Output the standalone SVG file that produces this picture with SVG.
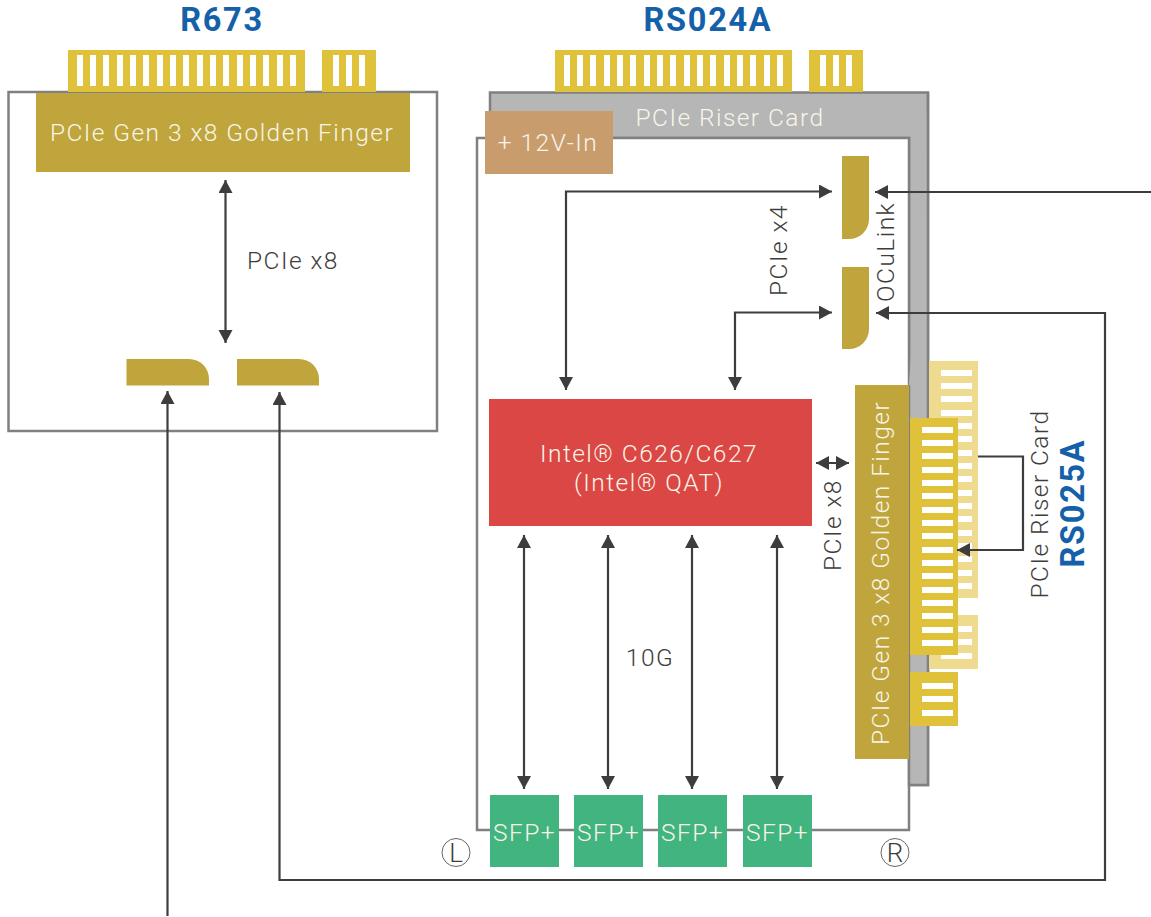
<svg xmlns="http://www.w3.org/2000/svg" xmlns:xlink="http://www.w3.org/1999/xlink" width="1151" height="917" viewBox="0 0 1151 917">
<style>
text{font-family:"Roboto","Liberation Sans",sans-serif;font-weight:300;letter-spacing:1.45px;text-anchor:middle}
.title{font-weight:700;font-size:32.500px;fill:#1561a9;letter-spacing:1.7px}
.w{fill:#f8f5e8;font-size:24.500px}
.d{fill:#3f3d3c;font-size:24.500px}
.m{letter-spacing:0;font-size:26px}
.gold{fill:#bfa53b}
.yel{fill:#dfc23a}
.lyel{fill:#eedb90}
.t{fill:#fff}
.box{fill:#fff;stroke:#808080;stroke-width:2.500}
.sfp{fill:#41b47f}
.c{fill:none;stroke:#3f3d3c;stroke-width:2.200}
</style>
<defs>
<marker id="a" markerUnits="userSpaceOnUse" markerWidth="14" markerHeight="15" refX="13" refY="7" orient="auto-start-reverse"><path d="M0 0L13 7L0 14Z" fill="#3f3d3c"/></marker>
<g id="longH"><path d="M77 55h6v31h-6zM90 55h6v31h-6zM103 55h6v31h-6zM117 55h6v31h-6zM130 55h6v31h-6zM143 55h6v31h-6zM157 55h6v31h-6zM170 55h6v31h-6zM183 55h6v31h-6zM197 55h6v31h-6zM210 55h6v31h-6zM223 55h6v31h-6zM237 55h6v31h-6zM250 55h6v31h-6zM263 55h6v31h-6zM277 55h6v31h-6zM290 55h6v31h-6z" class="t"/></g>
<g id="longV"><path d="M0 0h31v6h-31zM0 13h31v6h-31zM0 26h31v6h-31zM0 40h31v6h-31zM0 53h31v6h-31zM0 66h31v6h-31zM0 80h31v6h-31zM0 93h31v6h-31zM0 106h31v6h-31zM0 120h31v6h-31zM0 133h31v6h-31zM0 146h31v6h-31zM0 160h31v6h-31zM0 173h31v6h-31zM0 186h31v6h-31zM0 200h31v6h-31zM0 213h31v6h-31z" class="t"/></g>
<g id="shortV"><path d="M0 0h31v6h-31zM0 13h31v6h-31zM0 27h31v6h-31z" class="t"/></g>
</defs>

<g id="r673-title"><text class="title" x="222" y="31">R673</text></g>
<g id="rs024a-title"><text class="title" x="708" y="31">RS024A</text></g>

<g id="r673-board"><rect class="box" x="8.500" y="92" width="428.500" height="339"/></g>
<g id="r673-edge">
<rect class="yel" x="68" y="50" width="237" height="42"/><use xlink:href="#longH" href="#longH"/>
<rect class="yel" x="322" y="50" width="54" height="42"/><path class="t" d="M333 55h6v31h-6zM346 55h6v31h-6zM359 55h6v31h-6z"/>
</g>
<g id="r673-finger"><rect class="gold" x="36" y="93" width="374" height="79"/><text class="w" x="222" y="141">PCIe Gen 3 x8 Golden Finger</text></g>
<g id="r673-conn-l"><path class="gold" d="M126.500 359H189A20 20 0 0 1 209 379V385.500H126.500Z"/></g>
<g id="r673-conn-r"><path class="gold" d="M237 359H299A20 20 0 0 1 319 379V385.500H237Z"/></g>
<g id="pcie-x8-label"><text class="d" x="293" y="269">PCIe x8</text></g>

<g id="rs024a-riser"><path d="M490 92.500H928V785H909V138H490Z" fill="#b5b6b5" stroke="#808080" stroke-width="2.500"/></g>
<g id="rs024a-board"><path d="M477 138H909V830H477Z" fill="#fff" stroke="#808080" stroke-width="2.500"/></g>
<g id="rs024a-riser-overlay"><path d="M909 385V785H928V92.500" fill="#b5b6b5" stroke="#808080" stroke-width="2.500"/><text class="w" x="730" y="126">PCIe Riser Card</text></g>
<g id="rs024a-edge">
<rect class="yel" x="555" y="50" width="237" height="42"/><use xlink:href="#longH" href="#longH" x="487"/>
<rect class="yel" x="809" y="50" width="54" height="42"/><path class="t" d="M820 55h6v31h-6zM833 55h6v31h-6zM846 55h6v31h-6z"/>
</g>
<g id="v12"><rect x="485" y="111" width="128" height="63" fill="#c99c6e"/><text class="w" x="548" y="151">+ 12V-In</text></g>
<g id="oculink-1"><path class="gold" d="M842 156H869V219A20 20 0 0 1 849 239H842Z"/></g>
<g id="oculink-2"><path class="gold" d="M842 267H869V329A20 20 0 0 1 849 349H842Z"/></g>
<g id="labels-oculink">
<text class="d" transform="translate(787 250) rotate(-90)">PCIe x4</text>
<text class="d" transform="translate(894 252) rotate(-90)">OCuLink</text>
</g>
<g id="qat"><rect x="489" y="399" width="323" height="127" fill="#db4744"/><text class="w" x="649" y="462">Intel® C626/C627</text><text class="w" x="649" y="491">(Intel® QAT)</text></g>
<g id="pcie-x8-vert"><text class="d" transform="translate(841 525) rotate(-90)">PCIe x8</text></g>
<g id="rs025a-edge">
<rect class="lyel" x="929" y="361" width="49" height="237"/><use xlink:href="#longV" href="#longV" x="941" y="370"/>
<rect class="lyel" x="929" y="615" width="49" height="54"/><use xlink:href="#shortV" href="#shortV" x="941" y="626"/>
</g>
<g id="rs024a-finger"><rect class="gold" x="855" y="385" width="54" height="374"/><text class="w" transform="translate(889 573) rotate(-90)">PCIe Gen 3 x8 Golden Finger</text></g>
<g id="rs024a-side-edge">
<rect class="yel" x="910" y="418" width="48" height="237"/><use xlink:href="#longV" href="#longV" x="922" y="427"/>
<rect class="yel" x="910" y="672" width="48" height="54"/><use xlink:href="#shortV" href="#shortV" x="922" y="683"/>
</g>
<g id="rs025a-labels">
<text class="d" transform="translate(1048 504) rotate(-90)">PCIe Riser Card</text>
<text class="title" transform="translate(1084 503) rotate(-90)">RS025A</text>
</g>
<g id="ten-g"><text class="d" x="650" y="666">10G</text></g>
<g id="sfp1"><rect class="sfp" x="490" y="795" width="69" height="72"/><text class="w" x="524.500" y="841">SFP+</text></g>
<g id="sfp2"><rect class="sfp" x="574" y="795" width="69" height="72"/><text class="w" x="608.500" y="841">SFP+</text></g>
<g id="sfp3"><rect class="sfp" x="658" y="795" width="69" height="72"/><text class="w" x="692.500" y="841">SFP+</text></g>
<g id="sfp4"><rect class="sfp" x="743" y="795" width="69" height="72"/><text class="w" x="777.500" y="841">SFP+</text></g>
<g id="mark-l"><circle cx="456" cy="852.500" r="14" fill="none" stroke="#666" stroke-width="1"/><text class="d m" x="456" y="861.500">L</text></g>
<g id="mark-r"><circle cx="895" cy="852.500" r="14" fill="none" stroke="#666" stroke-width="1"/><text class="d m" x="895" y="861.500">R</text></g>

<g id="connectors">
<path class="c" d="M225.500 180V343" marker-start="url(#a)" marker-end="url(#a)"/>
<path class="c" d="M167.500 916V391" marker-end="url(#a)"/>
<path class="c" d="M279.500 392V880H1105V313H876" marker-start="url(#a)" marker-end="url(#a)"/>
<path class="c" d="M1151 192H875" marker-end="url(#a)"/>
<path class="c" d="M832 191.500H566V390" marker-start="url(#a)" marker-end="url(#a)"/>
<path class="c" d="M832 312.500H735V390" marker-start="url(#a)" marker-end="url(#a)"/>
<path class="c" d="M816 463H849" marker-start="url(#a)" marker-end="url(#a)"/>
<path class="c" d="M524 535V789" marker-start="url(#a)" marker-end="url(#a)"/>
<path class="c" d="M608 535V789" marker-start="url(#a)" marker-end="url(#a)"/>
<path class="c" d="M692 535V789" marker-start="url(#a)" marker-end="url(#a)"/>
<path class="c" d="M777 535V789" marker-start="url(#a)" marker-end="url(#a)"/>
<path class="c" d="M978 456.500H1023V550H957" marker-end="url(#a)"/>
</g>
</svg>
